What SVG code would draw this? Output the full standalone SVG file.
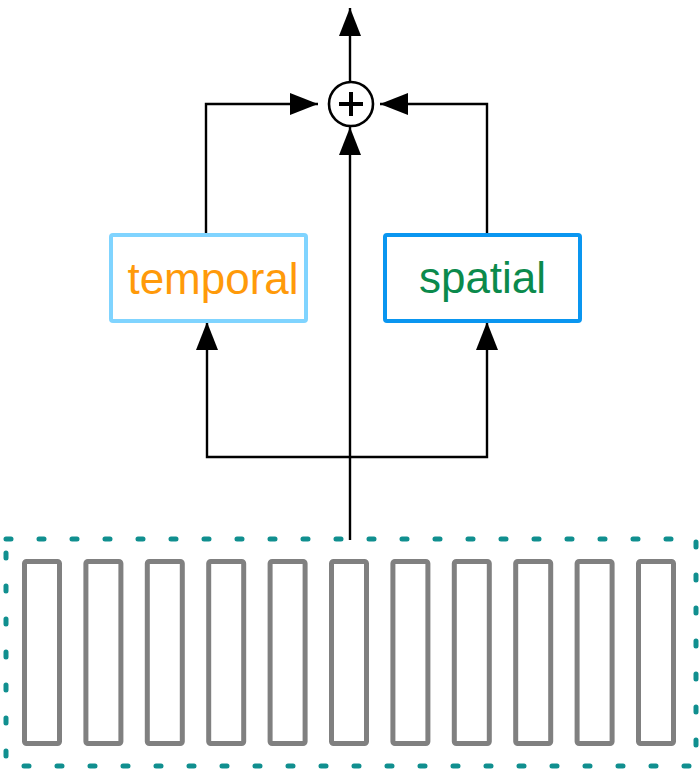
<svg xmlns="http://www.w3.org/2000/svg" width="699" height="772" viewBox="0 0 699 772">
<defs>
<marker id="arr" markerUnits="userSpaceOnUse" markerWidth="28" markerHeight="22" refX="28" refY="11" orient="auto">
<path d="M0,0 L28,11 L0,22 z" fill="#000"/>
</marker>
<style>
.edge{fill:none;stroke:#000;stroke-width:2.4}
.bar{fill:none;stroke:#808080;stroke-width:5;}
.lbl{font-family:"Liberation Sans",Arial,sans-serif;font-size:44px;text-anchor:middle}
</style>
</defs>
<rect width="699" height="772" fill="#fff"/>
<g id="edges">
<path class="edge" d="M206,233 V104 H318" marker-end="url(#arr)"/>
<path class="edge" d="M487,233 V104 H380" marker-end="url(#arr)"/>
<path class="edge" d="M350,540 V127" marker-end="url(#arr)"/>
<path class="edge" d="M350,81 V8" marker-end="url(#arr)"/>
<path class="edge" d="M350,457 H207 V322" marker-end="url(#arr)"/>
<path class="edge" d="M350,457 H487 V322" marker-end="url(#arr)"/>
</g>
<g id="sum">
<circle cx="351" cy="104" r="22" fill="#fff" stroke="#000" stroke-width="2.6"/>
<path d="M339,104 H363 M351,92 V116" stroke="#000" stroke-width="4" fill="none"/>
</g>
<g id="temporal">
<rect x="111" y="235" width="195" height="86" rx="2" fill="#fff" stroke="#80D4FF" stroke-width="4"/>
<text class="lbl" x="213" y="294" fill="#FF9A0A">temporal</text>
</g>
<g id="spatial">
<rect x="385" y="235" width="195" height="86" rx="2" fill="#fff" stroke="#0A96F0" stroke-width="4"/>
<text class="lbl" x="482.5" y="293" fill="#0B8A4C">spatial</text>
</g>
<g id="sequence">
<rect x="6" y="539" width="690" height="227" fill="none" stroke="#108F8F" stroke-width="5" stroke-linecap="round" stroke-dasharray="5 28"/>
<rect class="bar" x="24.5" y="561.5" width="35" height="182" rx="2"/>
<rect class="bar" x="85.9" y="561.5" width="35" height="182" rx="2"/>
<rect class="bar" x="147.3" y="561.5" width="35" height="182" rx="2"/>
<rect class="bar" x="208.7" y="561.5" width="35" height="182" rx="2"/>
<rect class="bar" x="270.1" y="561.5" width="35" height="182" rx="2"/>
<rect class="bar" x="331.5" y="561.5" width="35" height="182" rx="2"/>
<rect class="bar" x="392.9" y="561.5" width="35" height="182" rx="2"/>
<rect class="bar" x="454.3" y="561.5" width="35" height="182" rx="2"/>
<rect class="bar" x="515.7" y="561.5" width="35" height="182" rx="2"/>
<rect class="bar" x="577.1" y="561.5" width="35" height="182" rx="2"/>
<rect class="bar" x="638.5" y="561.5" width="35" height="182" rx="2"/>
</g>
</svg>
